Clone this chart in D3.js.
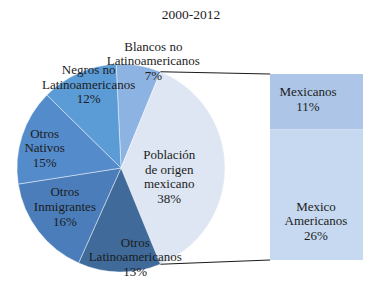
<!DOCTYPE html>
<html>
<head>
<meta charset="utf-8">
<script src="https://cdn.jsdelivr.net/npm/d3@7"></script>
<style>
  body { margin: 0; background: #fff; }
</style>
</head>
<body>
<div id="chart"></div>
<script>
// pie slices, clockwise, in the order Excel draws them
const categories = [
    ["Blancos no", "Latinoamericanos"],
    ["Población", "de origen", "mexicano"],
    ["Otros", "Latinoamericanos"],
    ["Otros", "Inmigrantes"],
    ["Otros", "Nativos"],
    ["Negros no", "Latinoamericanos"]
];
const values = [7, 38, 13, 16, 15, 12];
const sliceColors = ["#8db3e2", "#dde6f2", "#3f6a99", "#4a7dba", "#548bcb", "#5b9bd6"];

// breakdown of "Población de origen mexicano"
const subCategories = [["Mexicanos"], ["Mexico", "Americanos"]];
const subValues = [11, 26];
const subColors = ["#adc6e7", "#c7d9f0"];

const splitIndex = 1;
const title = "2000-2012";

const font = "'Liberation Serif', 'DejaVu Serif', 'Times New Roman', serif";
const width = 382, height = 284;
const svg = d3.select("#chart").append("svg")
    .attr("width", width)
    .attr("height", height)
    .attr("font-family", font);

svg.append("text")
    .attr("x", 191)
    .attr("y", 19)
    .attr("text-anchor", "middle")
    .attr("font-family", font)
    .attr("font-size", 13.5)
    .attr("fill", "#1c1c1c")
    .text(title);

const cx = 121, cy = 168, radius = 104;
const total = d3.sum(values);
const tau = 2 * Math.PI;
// rotate so the split slice is centred on 3 o'clock
const before = d3.sum(values.slice(0, splitIndex));
const start = Math.PI / 2 - (before + values[splitIndex] / 2) / total * tau;

const pie = d3.pie().sort(null).value(d => d).startAngle(start).endAngle(start + tau);
const arcs = pie(values);
const arc = d3.arc().innerRadius(0).outerRadius(radius);

const g = svg.append("g").attr("transform", `translate(${cx},${cy})`);
g.selectAll("path")
    .data(arcs)
    .enter()
    .append("path")
    .attr("d", arc)
    .attr("fill", (d, i) => sliceColors[i])
    .attr("stroke", "rgba(255,255,255,0.55)")
    .attr("stroke-width", 0.8);

// secondary bar
const bar = {x0: 270, x1: 363, y0: 74, y1: 260};
const y = d3.scaleLinear().domain([0, d3.sum(subValues)]).range([bar.y0, bar.y1]);
const stacked = [];
let acc = 0;
subValues.forEach((v, i) => { stacked.push({v, i, a: acc, b: acc + v}); acc += v; });

svg.selectAll("rect.sub")
    .data(stacked)
    .enter()
    .append("rect")
    .attr("class", "sub")
    .attr("x", bar.x0)
    .attr("y", d => y(d.a))
    .attr("width", bar.x1 - bar.x0)
    .attr("height", d => y(d.b) - y(d.a))
    .attr("fill", d => subColors[d.i]);

// connector lines from the split slice edges to the bar corners
const sp = arcs[splitIndex];
const edge = a => [cx + radius * Math.sin(a), cy - radius * Math.cos(a)];
const p0 = edge(sp.startAngle), p1 = edge(sp.endAngle);
svg.append("line")
    .attr("x1", p0[0]).attr("y1", p0[1])
    .attr("x2", bar.x0).attr("y2", bar.y0)
    .attr("stroke", "#1a1a1a").attr("stroke-width", 1);
svg.append("line")
    .attr("x1", p1[0]).attr("y1", p1[1])
    .attr("x2", bar.x0).attr("y2", bar.y1)
    .attr("stroke", "#1a1a1a").attr("stroke-width", 1);

// label placement: [angle shift in degrees, distance from centre]
const labelPlace = [[7, 112], [10, 49], [-10, 90], [3, 68], [-3, 79], [3, 90]];
const lineH = 14.6;

function multiLine(sel, lines, x, yc) {
    const t = sel.append("text")
        .attr("text-anchor", "middle")
        .attr("font-family", font)
        .attr("font-size", 13)
        .attr("fill", "#1c1c1c");
    const n = lines.length;
    lines.forEach((s, k) => {
        t.append("tspan")
            .attr("x", x)
            .attr("y", yc + (k - (n - 1) / 2) * lineH)
            .attr("dy", "0.35em")
            .text(s);
    });
}

arcs.forEach((d, i) => {
    const mid = (d.startAngle + d.endAngle) / 2 + labelPlace[i][0] * Math.PI / 180;
    const r = labelPlace[i][1];
    const lx = cx + r * Math.sin(mid), ly = cy - r * Math.cos(mid);
    multiLine(svg, categories[i].concat([Math.round(values[i]) + "%"]), lx, ly);
});

const subLabelX = [308, 316];
const subLabelShift = [-2.5, 26];
stacked.forEach(d => {
    const yc = (y(d.a) + y(d.b)) / 2 + subLabelShift[d.i];
    multiLine(svg, subCategories[d.i].concat([d.v + "%"]), subLabelX[d.i], yc);
});
</script>
</body>
</html>
